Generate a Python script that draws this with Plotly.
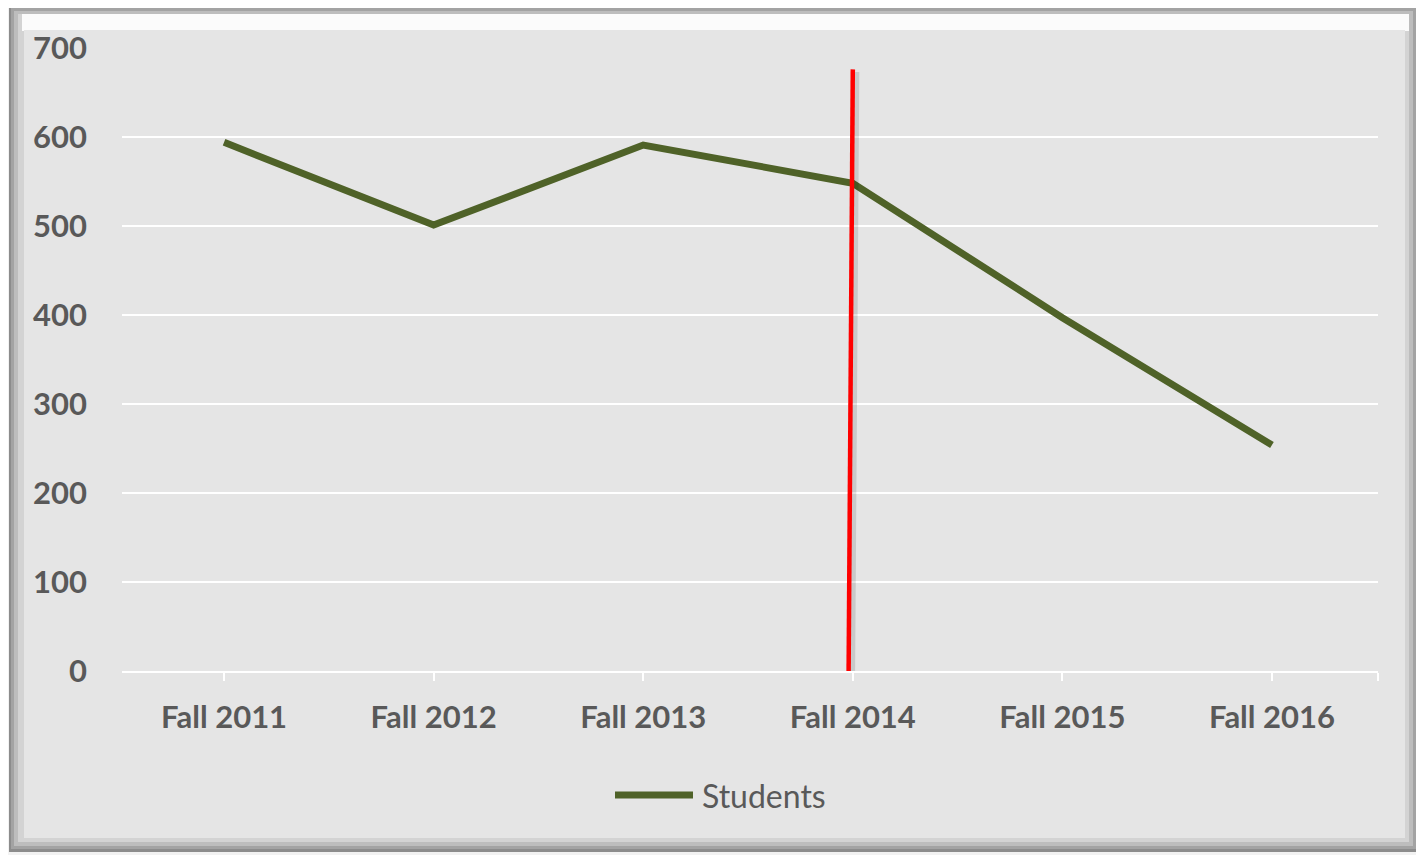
import plotly.graph_objects as go

W, H = 1424, 855
OFF = 8  # page body margin offset
FW, FH = W - OFF, H - OFF

categories = ["Fall 2011", "Fall 2012", "Fall 2013", "Fall 2014", "Fall 2015", "Fall 2016"]
students = [594, 501, 591, 548, 397, 254]
marker_x = [2.98, 3.0]
marker_y = [0, 676]
y_ticks = [0, 100, 200, 300, 400, 500, 600, 700]

GREEN = "#4F6228"
TXT = "#595959"
FONT = "Lato"

x_idx = list(range(len(categories)))

fig = go.Figure()
fig.add_trace(go.Scatter(
    x=x_idx, y=students, mode="lines", name="Students",
    line=dict(color=GREEN, width=7), showlegend=False, hoverinfo="skip",
))
# shadow for red line
fig.add_trace(go.Scatter(
    x=[v + 0.012 for v in marker_x], y=[marker_y[0] - 3, marker_y[1] - 3], mode="lines",
    line=dict(color="rgba(0,0,0,0.12)", width=8), showlegend=False, hoverinfo="skip",
))
fig.add_trace(go.Scatter(
    x=marker_x, y=marker_y, mode="lines",
    line=dict(color="#FF0000", width=4.5), showlegend=False, hoverinfo="skip",
))


def px(x):
    return (x - OFF) / FW


def py(y):
    return 1 - (y - OFF) / FH


shapes = []


def rect(x0, y0, x1, y1, color):
    shapes.append(dict(type="rect", xref="paper", yref="paper",
                       x0=px(x0), x1=px(x1), y0=py(y1), y1=py(y0),
                       fillcolor=color, line=dict(width=0), layer="below"))


rect(9, 6, 1420, 852, "#8c8c8c")
rect(11, 8, 1417, 849, "#a3a3a3")
rect(14, 11, 1413, 846, "#bdbdbd")
rect(18, 14, 1409, 842, "#d3d3d3")
rect(22, 14, 1409, 31, "#fbfbfb")
rect(24, 30, 1405, 838, "#e5e5e5")

# legend (custom)
shapes.append(dict(type="line", xref="paper", yref="paper",
                   x0=px(615), x1=px(693), y0=py(795), y1=py(795),
                   line=dict(color=GREEN, width=7), layer="above"))

x_right = 5.506
fig.update_layout(
    width=FW, height=FH,
    margin=dict(l=0, r=0, t=0, b=0),
    paper_bgcolor="#f2f2f2",
    plot_bgcolor="rgba(0,0,0,0)",
    shapes=shapes,
    annotations=[dict(xref="paper", yref="paper", x=px(700), y=py(795),
                      xanchor="left", yanchor="middle", showarrow=False,
                      text="Students", font=dict(family=FONT, size=32, color=TXT))],
    xaxis=dict(
        domain=[px(122), px(1378)], range=[-0.487, x_right],
        tickvals=x_idx + [x_right], ticktext=categories + [""],
        showgrid=False, zeroline=False, showline=True, linecolor="white", linewidth=2,
        ticks="outside", ticklen=8, tickwidth=2, tickcolor="white",
        ticklabelstandoff=10,
        tickfont=dict(family=FONT, size=31, color=TXT, weight="bold"),
        automargin=False, fixedrange=True,
    ),
    yaxis=dict(
        domain=[py(671), py(48)], range=[0, 700],
        tickvals=y_ticks, ticktext=[str(v) for v in y_ticks],
        showgrid=True, gridcolor="white", gridwidth=2,
        zeroline=False, showline=False, ticks="",
        ticklabelstandoff=34,
        tickfont=dict(family=FONT, size=31, color=TXT, weight="bold"),
        automargin=False, fixedrange=True,
    ),
)

fig.write_html("out.html")
